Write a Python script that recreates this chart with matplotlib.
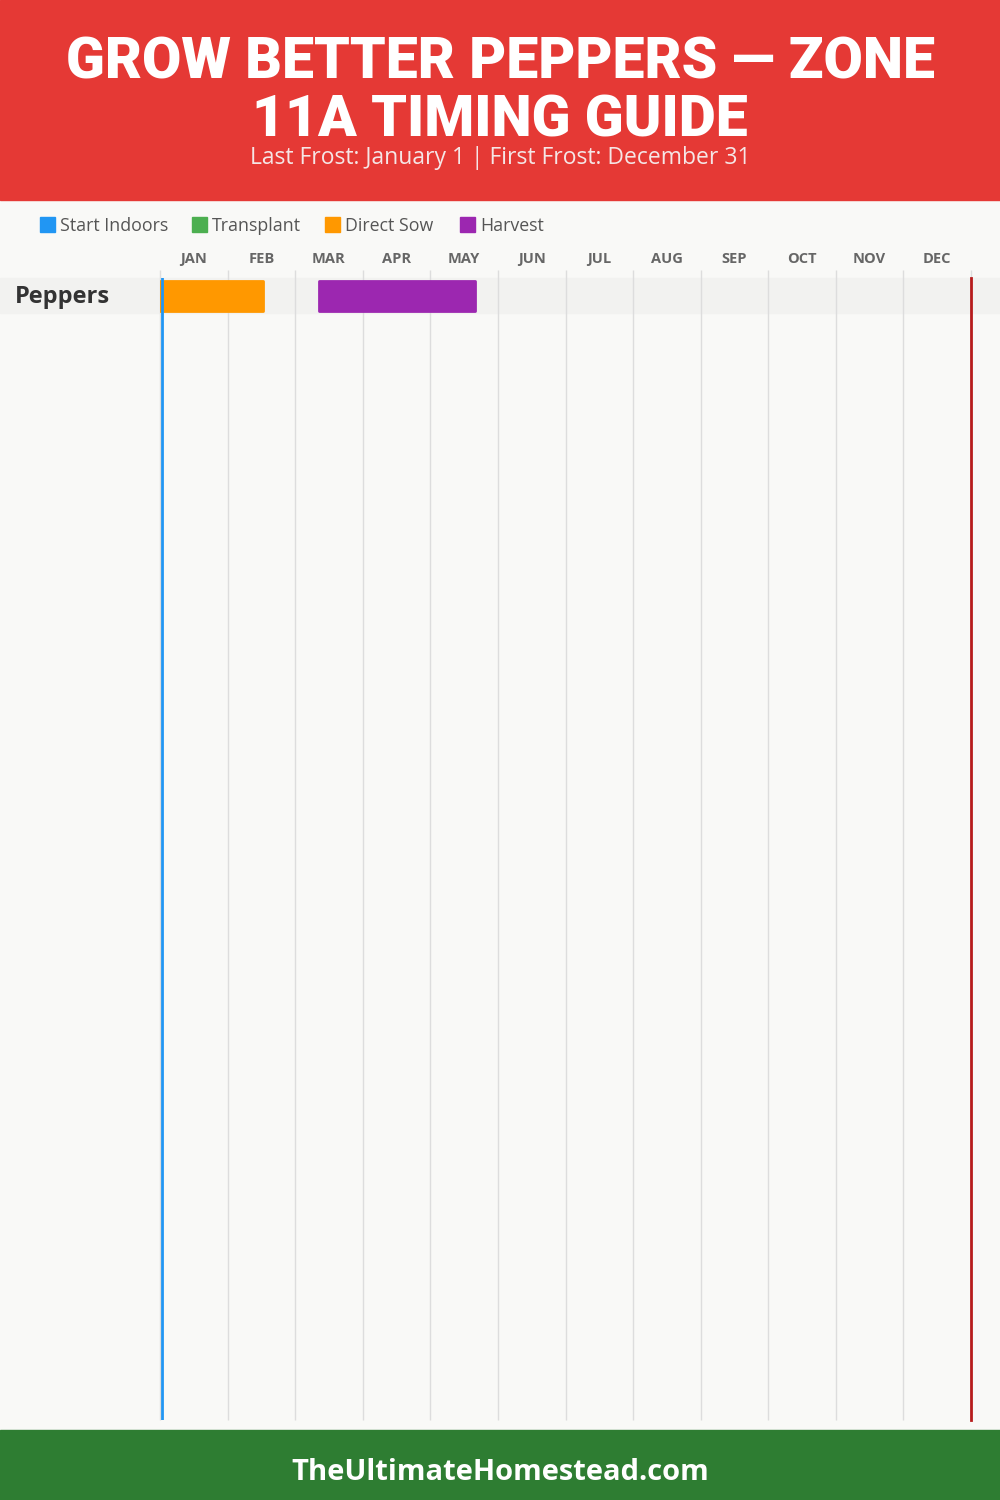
import matplotlib
matplotlib.use("Agg")
import matplotlib.pyplot as plt
from matplotlib import transforms
from matplotlib.patches import Rectangle

# data
crops = ["Peppers"]
months = ["JAN", "FEB", "MAR", "APR", "MAY", "JUN", "JUL", "AUG", "SEP", "OCT", "NOV", "DEC"]
stage_names = ["Start Indoors", "Transplant", "Direct Sow", "Harvest"]
stage_colors = ["#2196f3", "#4caf50", "#ff9800", "#9c27b0"]
# (crop index, stage index, start month, end month) in month units, Jan 1 = 0
periods = [
    (0, 2, 0.0, 1.53),
    (0, 3, 2.36, 4.66),
]
last_frost = 0.03
first_frost = 12.0

title = "GROW BETTER PEPPERS \u2014 ZONE\n11A TIMING GUIDE"
subtitle = "Last Frost: January 1 | First Frost: December 31"
footer = "TheUltimateHomestead.com"

W, H = 1000, 1500
fig = plt.figure(figsize=(10, 15), dpi=100)
fig.patch.set_facecolor("#f9f9f7")

bg = fig.add_axes([0, 0, 1, 1])
bg.set_xlim(0, W)
bg.set_ylim(H, 0)
bg.axis("off")

# header / footer
bg.add_patch(Rectangle((0, 0), W, 200, color="#e53935", zorder=1))
bg.add_patch(Rectangle((0, 1430), W, 70, color="#2e7d32", zorder=1))
line1, line2 = title.split("\n")
bg.text(500, 63, line1, ha="center", va="center", color="white",
        fontsize=41, fontweight="black", family="Roboto", zorder=2)
bg.text(500, 121, line2, ha="center", va="center", color="white",
        fontsize=41, fontweight="black", family="Roboto", zorder=2)
bg.text(500, 158, subtitle, ha="center", va="center", color="#f5e6e6",
        fontsize=16.5, family="Open Sans", zorder=3)
bg.text(500, 1472, footer, ha="center", va="center", color="white",
        fontsize=21, fontweight="bold", family="Open Sans", zorder=2)

# legend
legend_x = [40, 192, 325, 460]
for x, name, c in zip(legend_x, stage_names, stage_colors):
    bg.add_patch(Rectangle((x, 217), 15, 15, color=c, zorder=2))
    bg.text(x + 20, 226, name, ha="left", va="center", color="#555555",
            fontsize=12.8, family="Open Sans", zorder=2)

# chart
row_h = 35
top, bottom = 278, 1420
left, right = 160, 971
ax = fig.add_axes([left / W, 1 - bottom / H, (right - left) / W, (bottom - top) / H])
ax.set_facecolor("none")
ax.set_xlim(0, 12)
ax.set_ylim((bottom - top) / row_h, 0)
for s in ax.spines.values():
    s.set_visible(False)
ax.set_xticks([])
ax.set_yticks([])

for m, name in enumerate(months):
    ax.text(m + 0.5, -19 / row_h, name, ha="center", va="center", fontsize=10.5,
            fontweight="bold", color="#666666", family="Open Sans", clip_on=False)

ax.vlines(range(13), -8 / row_h, (bottom - top) / row_h, color="#dddddd", lw=1,
          clip_on=False, zorder=1)

band = transforms.blended_transform_factory(fig.transFigure, ax.transData)
for i, crop in enumerate(crops):
    ax.add_patch(Rectangle((0, i), 1, 1, transform=band, color="#f2f2f0",
                           clip_on=False, zorder=0))
    ax.text(15 / W, i + 0.55, crop, transform=band, ha="left", va="center",
            fontsize=17, fontweight="bold", color="#333333", family="Open Sans")

for i, st, a, b in periods:
    ax.barh(i + 0.5, b - a, left=a, height=30 / row_h, color=stage_colors[st],
            edgecolor=stage_colors[st], lw=2, joinstyle="round", zorder=3)

ax.axvline(last_frost, color="#2196f3", lw=2, zorder=4)
ax.axvline(first_frost, color="#b71c1c", lw=2, zorder=4, clip_on=False)

fig.savefig("out.png", dpi=100, facecolor=fig.get_facecolor())
